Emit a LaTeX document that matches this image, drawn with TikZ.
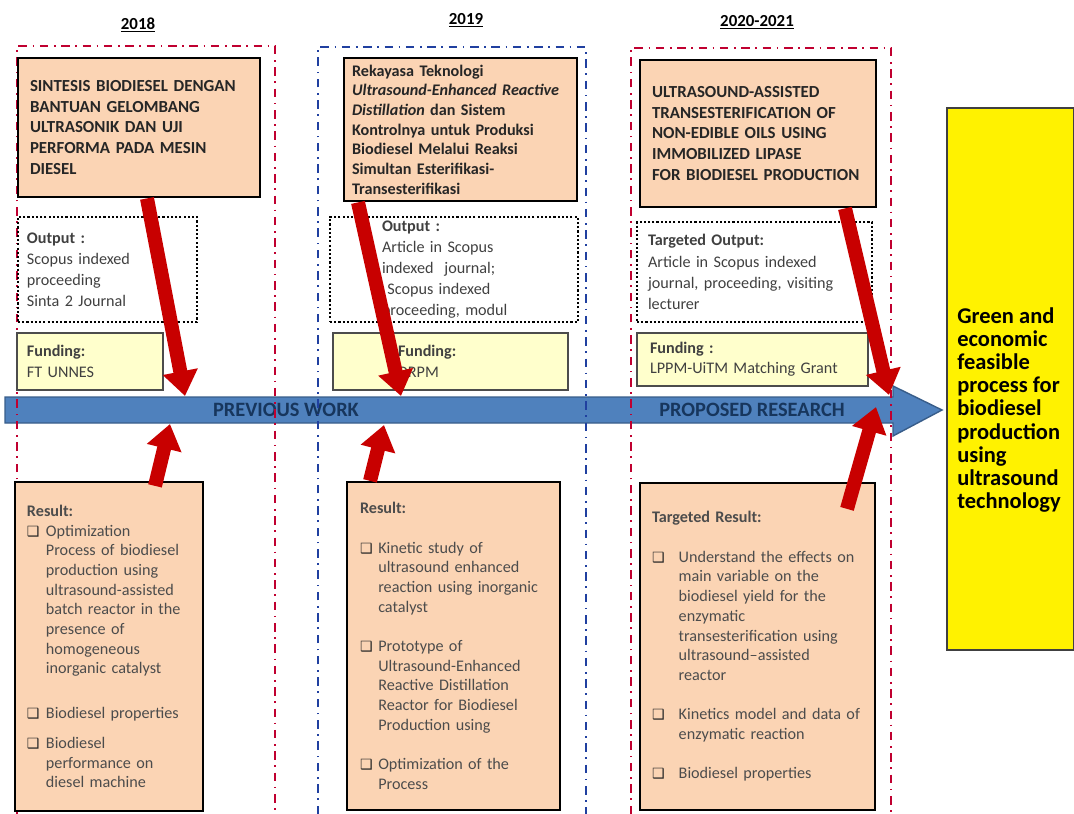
\documentclass[tikz,border=0pt]{standalone}
\usepackage{fontspec}
\setmainfont{Carlito}
\newfontfamily\symfont{DejaVu Sans}
\usepackage{xcolor}
\usetikzlibrary{arrows.meta, calc}
\definecolor{peach}{HTML}{FBD4B4}
\definecolor{paleyel}{HTML}{FFFFCC}
\definecolor{barblue}{HTML}{4F81BD}
\definecolor{bardark}{HTML}{385D8A}
\definecolor{navytxt}{HTML}{17365D}
\definecolor{framered}{HTML}{C00030}
\definecolor{frameblue}{HTML}{2040A0}
\definecolor{arrowred}{HTML}{C80000}
\newcommand{\pxl}{0.025cm}
\newcommand{\chk}[1][13.5pt]{\makebox[#1][l]{\color{black!85}\symfont\fontsize{10}{10}\selectfont ❑}}
\newcommand{\indt}[1][13.5pt]{\hspace*{#1}}
\tikzset{
  yearlabel/.style = {font=\fontsize{12}{14}\selectfont\bfseries},
  framecol/.style  = {line width=1.8pt,
                      dash pattern=on 6pt off 4pt on 1.2pt off 4pt},
  boxdim/.style n args = {3}{minimum width={#1*\pxl}, minimum height={#2*\pxl},
                      text width={#3*\pxl}},
  titlebox/.style  = {rectangle, draw=black, line width=2pt, fill=peach,
                      inner sep=0pt, align=left, text=black!85,
                      font=\fontsize{12}{14.6}\selectfont\bfseries},
  outbox/.style    = {rectangle, draw=black, line width=1.6pt,
                      dash pattern=on 1.5pt off 1.5pt, inner sep=0pt,
                      align=left, text=black!75,
                      font=\fontsize{11.5}{15}\selectfont},
  fundbox/.style   = {rectangle, draw=black!70, line width=1.4pt, fill=paleyel,
                      inner sep=0pt, align=left, text=black!75,
                      font=\fontsize{11.5}{14.5}\selectfont},
  resbox/.style    = {rectangle, draw=black, line width=1.6pt, fill=peach,
                      inner sep=0pt, align=left, text=black!70,
                      font=\fontsize{11.5}{14}\selectfont},
  goalbox/.style   = {rectangle, draw=black!75, line width=1.4pt, fill=yellow},
  goaltext/.style  = {anchor=west, inner sep=0pt, align=left,
                      font=\fontsize{16}{16.4}\selectfont\bfseries},
  bartext/.style   = {text=navytxt, font=\fontsize{14.5}{16}\selectfont\bfseries},
  redarrow/.style  = {draw=arrowred, line width=0.35cm,
                      -{Triangle[length=0.62cm, width=0.85cm]}}
}
\begin{document}
\begin{tikzpicture}[x=0.025cm, y=-0.025cm]
  \useasboundingbox (0,0) rectangle (1074,814);
  \draw[fill=barblue, draw=bardark, line width=1pt]
    (5,397) -- (893,397) -- (893,386) -- (942,410) -- (893,436) -- (893,423) -- (5,423) -- cycle;
  \node[bartext] (prev) at (286,410) {PREVIOUS WORK};
  \node[bartext] (prop) at (752,410) {PROPOSED RESEARCH};
  \draw[framecol, framered]  (17,814) -- (17,46) -- (275,46) -- (275,814);
  \draw[framecol, frameblue] (318,814) -- (318,47) -- (586,47) -- (586,814);
  \draw[framecol, framered]  (631,814) -- (631,48) -- (891,48) -- (891,814);
  \node[yearlabel] (yr1) at (138,25) {\underline{2018}};
  \node[yearlabel] (yr2) at (466,20) {\underline{2019}};
  \node[yearlabel] (yr3) at (757,22) {\underline{2020-2021}};
  \node[titlebox, boxdim={242}{139}{218}] (t1) at (139,127.5)
    {SINTESIS BIODIESEL DENGAN\\BANTUAN GELOMBANG\\ULTRASONIK DAN UJI\\PERFORMA PADA MESIN\\DIESEL};
  \node[titlebox, boxdim={233}{143}{217}, font=\fontsize{11.5}{14}\selectfont\bfseries] (t2) at (460.5,129.5)
    {Rekayasa Teknologi\\\textit{Ultrasound-Enhanced Reactive}\\\textit{Distillation} dan Sistem\\Kontrolnya untuk Produksi\\Biodiesel Melalui Reaksi\\Simultan Esterifikasi-\\Transesterifikasi};
  \node[titlebox, boxdim={236}{147}{212}] (t3) at (758,133.5)
    {ULTRASOUND-ASSISTED\\TRANSESTERIFICATION OF\\NON-EDIBLE OILS USING\\IMMOBILIZED LIPASE\\FOR BIODIESEL PRODUCTION};
  \node[outbox, boxdim={179}{105}{161}] (o1) at (107.5,269.5)
    {\textbf{Output :}\\Scopus indexed\\proceeding\\Sinta 2 Journal};
  \node[outbox, boxdim={248}{105}{144}] (o2) at (454,269.5)
    {\textbf{Output :}\\Article in Scopus\\indexed\ \ journal;\\\ Scopus indexed\\proceeding, modul};
  \node[outbox, boxdim={235}{100}{213}] (o3) at (754.5,272)
    {\textbf{Targeted Output:}\\Article in Scopus indexed\\journal, proceeding, visiting\\lecturer};
  \node[fundbox, boxdim={146}{57}{126}] (f1) at (90,361.5) {\textbf{Funding:}\\FT UNNES};
  \node[fundbox, boxdim={235}{57}{105}] (f2) at (450.5,361.5) {\textbf{Funding:}\\DRPM};
  \node[fundbox, boxdim={231}{53}{205}] (f3) at (752.5,359.5) {\textbf{Funding :}\\LPPM-UiTM Matching Grant};
  \node[resbox, boxdim={188}{329}{164}] (r1) at (109,646.5)
    {\textbf{Result:}\\\chk Optimization\\\indt Process of biodiesel\\\indt production using\\\indt ultrasound-assisted\\\indt batch reactor in the\\\indt presence of\\\indt homogeneous\\\indt inorganic catalyst\\[18pt]\chk Biodiesel properties\\[7pt]\chk Biodiesel\\\indt performance on\\\indt diesel machine};
  \node[resbox, boxdim={213}{328}{187}] (r2) at (453.5,646)
    {\textbf{Result:}\\[14pt]\chk[13pt]Kinetic study of\\\indt[13pt]ultrasound enhanced\\\indt[13pt]reaction using inorganic\\\indt[13pt]catalyst\\[14pt]\chk[13pt]Prototype of\\\indt[13pt]Ultrasound-Enhanced\\\indt[13pt]Reactive Distillation\\\indt[13pt]Reactor for Biodiesel\\\indt[13pt]Production using\\[14pt]\chk[13pt]Optimization of the\\\indt[13pt]Process};
  \node[resbox, boxdim={235}{327}{211}] (r3) at (757.5,646.5)
    {\textbf{Targeted Result:}\\[14pt]\chk[19pt]Understand the effects on\\\indt[19pt]main variable on the\\\indt[19pt]biodiesel yield for the\\\indt[19pt]enzymatic\\\indt[19pt]transesterification using\\\indt[19pt]ultrasound–assisted\\\indt[19pt]reactor\\[14pt]\chk[19pt]Kinetics model and data of\\\indt[19pt]enzymatic reaction\\[14pt]\chk[19pt]Biodiesel properties};
  \node[goalbox, minimum width={127*\pxl}, minimum height={542*\pxl}] (goal) at (1010.5,379) {};
  \node[goaltext] (goaltxt) at (957,410)
    {Green and\\economic\\feasible\\process for\\biodiesel\\production\\using\\ultrasound\\technology};
  \coordinate (d1) at (185,396);
  \coordinate (d2) at (401,396);
  \coordinate (d3) at (889,395);
  \coordinate (u1) at (170,424);
  \coordinate (u2) at (384,425);
  \coordinate (u3) at (876,407);
  \draw[redarrow] (147,0 |- t1.south) -- (d1);
  \draw[redarrow] (358,0 |- t2.south) -- (d2);
  \draw[redarrow] (845,0 |- t3.south) -- (d3);
  \draw[redarrow] ($(155,0 |- r1.north)+(0,5)$) -- (u1);
  \draw[redarrow] (370,0 |- r2.north) -- (u2);
  \draw[redarrow] ($(847,0 |- r3.north)+(0,27)$) -- (u3);
\end{tikzpicture}
\end{document}
